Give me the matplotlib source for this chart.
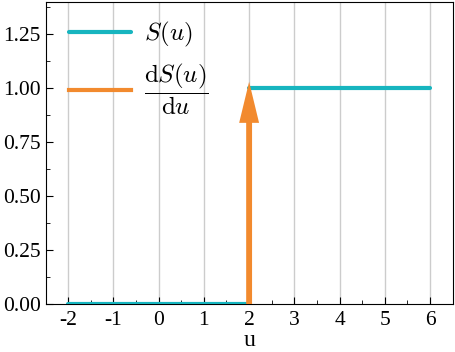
import numpy as np
import matplotlib
matplotlib.use("Agg")
import matplotlib.pyplot as plt
from matplotlib.ticker import MultipleLocator

plt.rcParams["font.family"] = ["Liberation Serif", "DejaVu Serif"]
plt.rcParams["mathtext.fontset"] = "cm"
plt.rcParams["axes.unicode_minus"] = False

# step function S(u): 0 before the jump, 1 after
u_low = [-2, 2]
s_low = [0, 0]
u_high = [2, 6]
s_high = [1, 1]

# derivative: Dirac delta drawn as an arrow at the jump
jump_u = 2
arrow_top = 1.03

teal = "#17B5BF"
orange = "#F28A2E"

fig, ax = plt.subplots(figsize=(4.55, 3.52), dpi=100)
fig.subplots_adjust(left=0.1, right=0.995, top=0.995, bottom=0.135)

ax.plot(u_low, s_low, color=teal, lw=3, solid_capstyle="round",
        label=r"$S(u)$", zorder=3)
ax.plot(u_high, s_high, color=teal, lw=3, solid_capstyle="round", zorder=3)

ax.arrow(jump_u, 0, 0, arrow_top, width=0.13, head_width=0.44,
         head_length=0.19, length_includes_head=True, color=orange,
         lw=0, zorder=4)
ax.plot([], [], color=orange, lw=3,
        label=r"$\dfrac{\mathrm{d}S(u)}{\mathrm{d}u}$")

ax.set_xlim(-2.5, 6.5)
ax.set_ylim(0, 1.4)
ax.set_xticks(range(-2, 7))
ax.set_yticks([0, 0.25, 0.5, 0.75, 1.0, 1.25])
ax.set_yticklabels(["0.00", "0.25", "0.50", "0.75", "1.00", "1.25"])
ax.xaxis.set_minor_locator(MultipleLocator(0.5))
ax.yaxis.set_minor_locator(MultipleLocator(0.125))
ax.tick_params(which="both", direction="in", labelsize=15.5)
ax.tick_params(which="major", length=5)
ax.tick_params(which="minor", length=3)
ax.tick_params(axis="x", pad=5)
ax.grid(True, axis="x", color="#cccccc", lw=1)
ax.set_axisbelow(True)
ax.set_xlabel("u", fontsize=17, labelpad=0)

ax.legend(loc="upper left", frameon=False, fontsize=18, handlelength=2.5,
          handletextpad=0.5, borderaxespad=0.2, labelspacing=0.5,
          bbox_to_anchor=(0.02, 0.99))

fig.savefig("out.png", dpi=100)
